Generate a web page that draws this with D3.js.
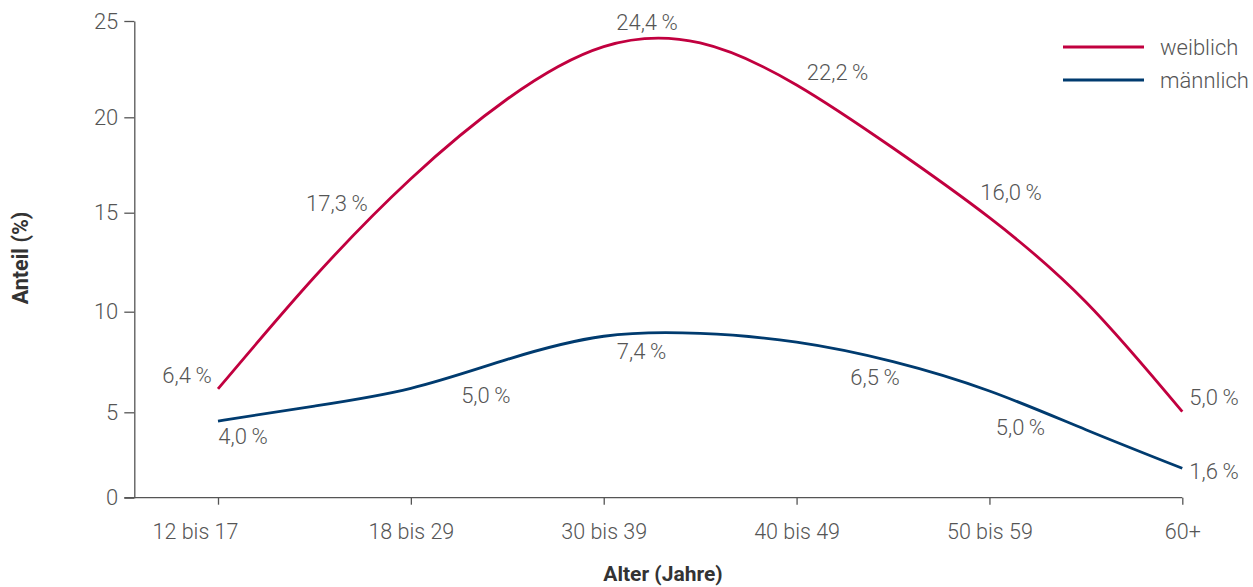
<!DOCTYPE html>
<html>
<head>
<meta charset="utf-8">
<script src="https://cdn.jsdelivr.net/npm/d3@7"></script>
<style>
  html, body { margin: 0; padding: 0; background: #fff; }
  svg { display: block; font-family: Roboto, "Noto Sans", sans-serif; }
</style>
</head>
<body>
<svg id="chart" width="1253" height="587"></svg>
<script>
// ---- data ----
const categories = ["12 bis 17", "18 bis 29", "30 bis 39", "40 bis 49", "50 bis 59", "60+"];
// reported shares (labels)
const weiblichLabels = [6.4, 17.3, 24.4, 22.2, 16.0, 5.0];
const maennlichLabels = [4.0, 5.0, 7.4, 6.5, 5.0, 1.6];
// curves as drawn in the reference, read at every half category step
const curveSteps = [0, 0.5, 1, 1.5, 2, 2.5, 3, 3.5, 4, 4.5, 5];
const weiblichCurve = [6.16, 11.75, 16.78, 20.95, 23.67, 23.86, 21.68, 18.39, 14.75, 10.49, 5.03];
const maennlichCurve = [4.49, 5.31, 6.19, 7.63, 8.78, 8.92, 8.49, 7.52, 6.06, 3.98, 1.72];
const yTicks = [0, 5, 10, 15, 20, 25];
const seriesNames = ["weiblich", "männlich"];

// ---- layout ----
const colors = { weiblich: "#c1003f", maennlich: "#003b6f" };
const textColor = "#555";
const axisColor = "#555";
const x0 = 218, x1 = 1182.3, axisX = 134.3;
const fmt = v => v.toFixed(1).replace(".", ",") + "\u2009%";

const svg = d3.select("#chart");

const x = d3.scalePoint().domain(categories).range([x0, x1]);
const xStep = d3.scaleLinear().domain([0, categories.length - 1]).range([x0, x1]);
// reference axis has slightly uneven tick spacing
const y = d3.scaleLinear().domain(yTicks).range([497.7, 412.3, 311.7, 212.7, 117.3, 21]);

// y axis
const yAxis = d3.axisLeft(y).tickValues(yTicks).tickSize(10).tickPadding(6).tickSizeOuter(0);
const gy = svg.append("g").attr("transform", `translate(${axisX},0)`).call(yAxis);
gy.select(".domain").attr("stroke", axisColor).attr("stroke-width", 1.3);
gy.selectAll(".tick line").attr("stroke", axisColor).attr("stroke-width", 1.3);
gy.selectAll(".tick text").attr("fill", textColor).attr("font-size", 22).attr("font-family", "Roboto")
  .attr("font-weight", 300);

// x axis
const xAxis = d3.axisBottom(x).tickSize(7).tickPadding(19).tickSizeOuter(0);
const gx = svg.append("g").attr("transform", `translate(0,${y(0)})`).call(xAxis);
gx.select(".domain").remove();
gx.append("line").attr("x1", axisX - 10).attr("x2", x1).attr("y1", 0).attr("y2", 0)
  .attr("stroke", axisColor).attr("stroke-width", 1.3);
gx.selectAll(".tick line").attr("stroke", axisColor).attr("stroke-width", 1.3);
gx.selectAll(".tick text").attr("fill", textColor).attr("font-size", 21.5).attr("font-family", "Roboto")
  .attr("font-weight", 300)
  .attr("dx", (d, i) => i === 0 ? -23 : 0);

// axis titles
svg.append("text").attr("x", 663).attr("y", 574).attr("text-anchor", "middle")
  .attr("dominant-baseline", "central").attr("font-size", 21).attr("font-weight", 700)
  .attr("fill", "#333").text("Alter (Jahre)");
svg.append("text").attr("transform", "translate(20,258) rotate(-90)").attr("text-anchor", "middle")
  .attr("dominant-baseline", "central").attr("font-size", 21.5).attr("font-weight", 700)
  .attr("fill", "#333").text("Anteil (%)");

// lines
const line = d3.line().x((d, i) => xStep(curveSteps[i])).y(d => y(d)).curve(d3.curveNatural);
svg.append("path").datum(weiblichCurve).attr("d", line).attr("fill", "none")
  .attr("stroke", colors.weiblich).attr("stroke-width", 2.8);
svg.append("path").datum(maennlichCurve).attr("d", line).attr("fill", "none")
  .attr("stroke", colors.maennlich).attr("stroke-width", 2.8);

// labels (offsets relative to the curve at each category)
const wOff = [[-31, -13], [-74, 24.3], [43.3, -24.6], [41, -12], [21.6, -25.6], [31.7, -13.7]];
const mOff = [[25, 15.7], [75, 7.6], [37.8, 15.5], [78.4, 35.9], [31, 36.3], [31.7, 2.7]];
function labels(vals, curve, off) {
  svg.append("g").selectAll("text").data(vals).join("text")
    .attr("x", (d, i) => x(categories[i]) + off[i][0])
    .attr("y", (d, i) => y(curve[curveSteps.indexOf(i)]) + off[i][1])
    .attr("text-anchor", "middle").attr("dominant-baseline", "central")
    .attr("font-size", 22).attr("font-weight", 300).attr("fill", textColor)
    .text(d => fmt(d));
}
labels(weiblichLabels, weiblichCurve, wOff);
labels(maennlichLabels, maennlichCurve, mOff);

// legend
const legend = svg.append("g");
seriesNames.forEach((name, i) => {
  const yy = 47 + i * 33;
  legend.append("line").attr("x1", 1063).attr("x2", 1144).attr("y1", yy).attr("y2", yy)
    .attr("stroke", i === 0 ? colors.weiblich : colors.maennlich).attr("stroke-width", 3);
  legend.append("text").attr("x", 1160).attr("y", yy).attr("dominant-baseline", "central")
    .attr("font-size", 22).attr("font-weight", 300).attr("fill", textColor).text(name);
});
</script>
</body>
</html>
